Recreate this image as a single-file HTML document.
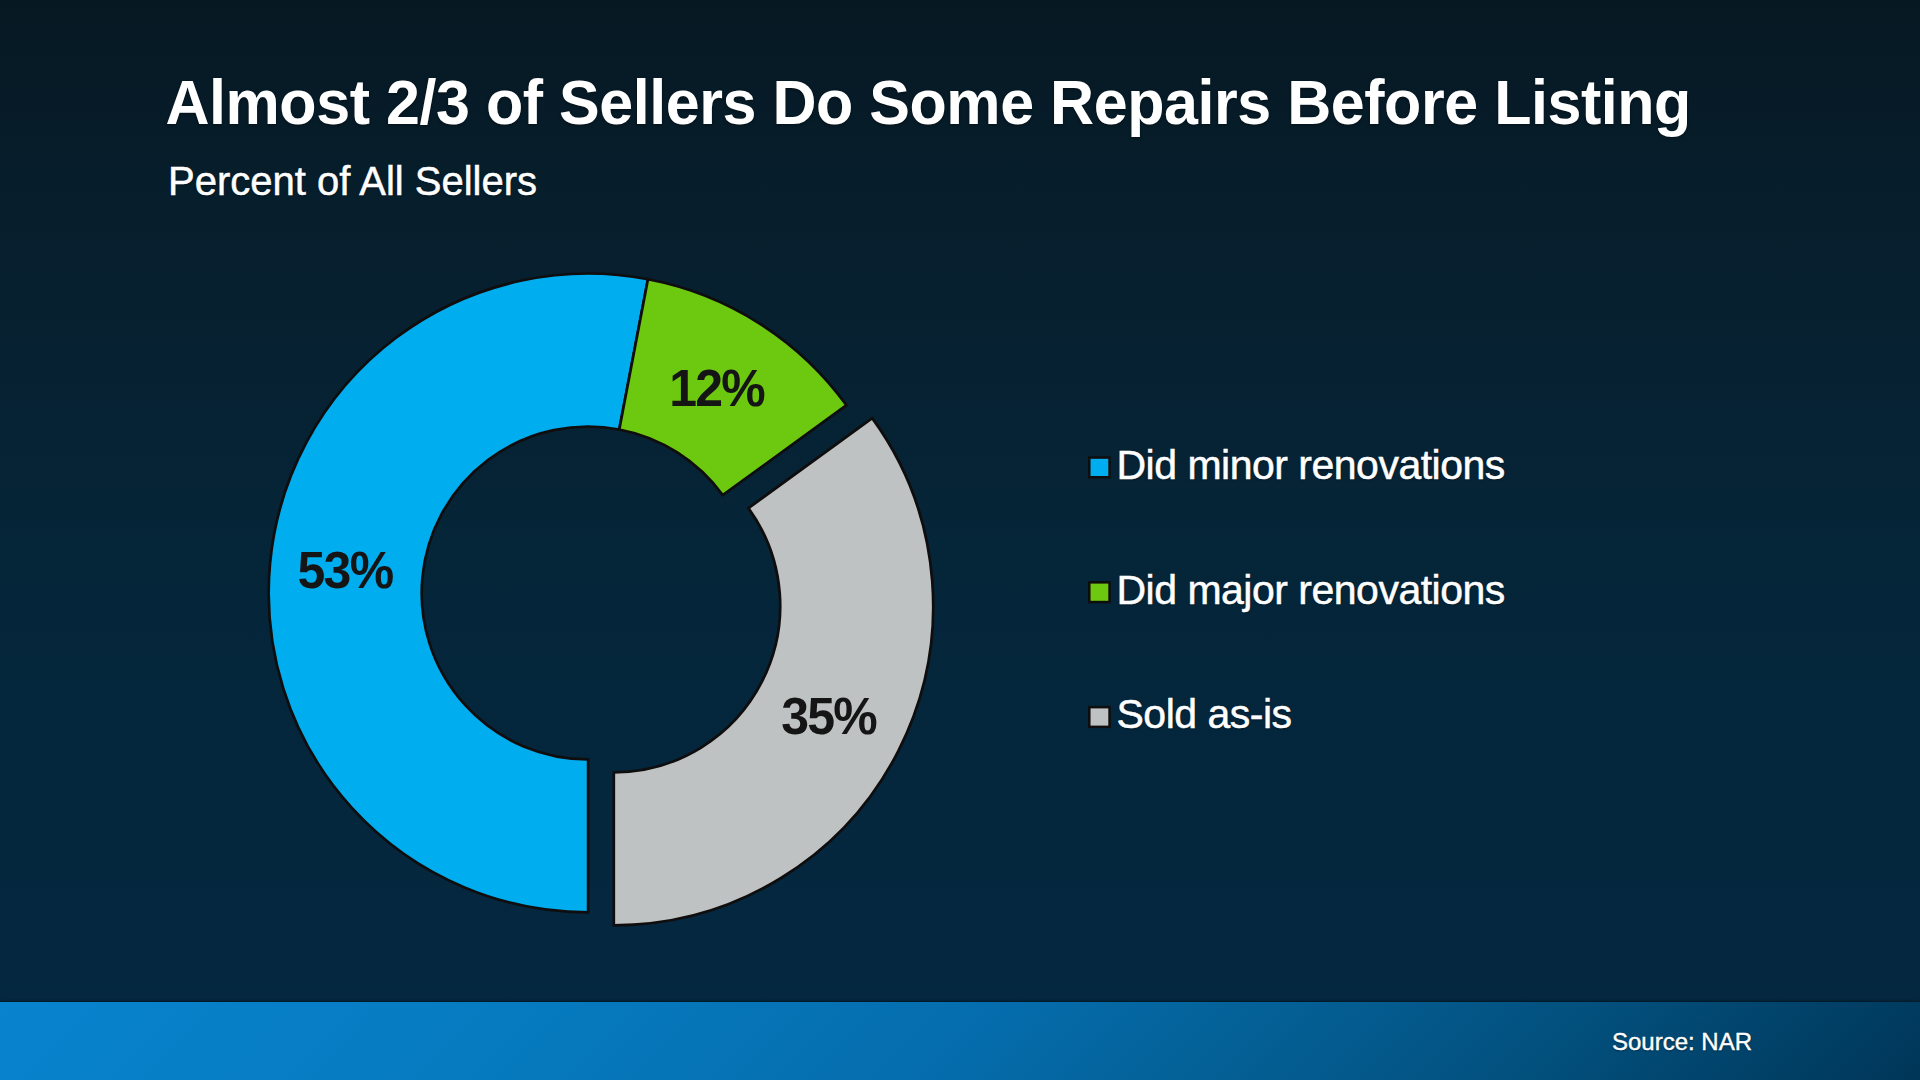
<!DOCTYPE html>
<html lang="en">
<head>
<meta charset="utf-8">
<title>Almost 2/3 of Sellers Do Some Repairs Before Listing</title>
<style>
  html, body { margin:0; padding:0; }
  body {
    width:1920px; height:1080px; overflow:hidden; position:relative;
    font-family:"Liberation Sans", Arial, Helvetica, sans-serif;
    color:#fff;
    background:linear-gradient(to bottom, rgb(6,25,35) 0%, rgb(7,31,46) 23.1%, rgb(5,37,56) 50%, rgb(4,39,62) 74%, rgb(4,40,64) 92.6%, rgb(4,40,64) 100%);
  }
  .title {
    position:absolute; left:165.5px; top:67.6px; margin:0;
    font-size:61px; font-weight:bold; line-height:70px; transform:scaleY(1.02); transform-origin:0 56px; white-space:nowrap;
    letter-spacing:-0.457px; text-shadow:0 1px 3px rgba(0,0,0,0.45);
  }
  .subtitle {
    position:absolute; left:168px; top:158px; margin:0;
    font-size:40px; font-weight:normal; line-height:46px; white-space:nowrap;
    -webkit-text-stroke:0.5px #fff; text-shadow:0 1px 2px rgba(0,0,0,0.4);
  }
  .chart { position:absolute; left:0; top:0; width:1920px; height:1080px; }
  .chart path { stroke:#0f0d0d; stroke-width:2.7; stroke-linejoin:miter; }
  .chart text {
    font-family:"Liberation Sans", Arial, Helvetica, sans-serif;
    font-size:50px; font-weight:bold; fill:#151515; text-anchor:middle; letter-spacing:-1.7px;
  }
  .legend { position:absolute; left:1087.5px; top:0; margin:0; padding:0; list-style:none; }
  .legend li {
    position:absolute; left:0; white-space:nowrap;
    font-size:41px; line-height:46px; padding-left:29px; letter-spacing:-0.5px;
    -webkit-text-stroke:0.5px #fff; text-shadow:0 1px 2px rgba(0,0,0,0.4);
  }
  .chart rect { stroke:#0f0d0d; stroke-width:2.5; }
  .footer {
    position:absolute; left:0; top:1002px; width:1920px; height:78px;
    background:linear-gradient(135deg, rgb(8,131,206) 0%, rgb(6,123,192) 26%, rgb(5,109,173) 50%, rgb(4,98,153) 62%, rgb(3,86,135) 74%, rgb(2,80,125) 80%, rgb(0,54,88) 100%);
    box-shadow:0 -1px 2px rgba(0,0,0,0.45);
  }
  .source {
    position:absolute; right:168px; top:25.6px; margin:0;
    font-size:24px; line-height:28px; white-space:nowrap;
    text-shadow:0 1px 2px rgba(0,0,0,0.5); -webkit-text-stroke:0.4px #fff;
  }
</style>
</head>
<body>
  <h1 class="title">Almost 2/3 of Sellers Do Some Repairs Before Listing</h1>
  <p class="subtitle">Percent of All Sellers</p>

  <svg class="chart" width="1920" height="1080" viewBox="0 0 1920 1080">
    <path fill="#00aeef" d="M588.10 912.35A319.4 319.4 0 1 1 647.95 279.21L619.28 429.50A166.4 166.4 0 1 0 588.10 759.35Z"/>
    <path fill="#6cc910" d="M647.95 279.21A319.4 319.4 0 0 1 846.50 405.21L722.72 495.14A166.4 166.4 0 0 0 619.28 429.50Z"/>
    <path fill="#bfc2c2" d="M872.20 418.16A319.4 319.4 0 0 1 613.80 925.30L613.80 772.30A166.4 166.4 0 0 0 748.42 508.09Z"/>
    <rect fill="#00aeef" x="1089.3" y="457.55" width="20.25" height="19.7"/>
    <rect fill="#6cc910" x="1089.3" y="582.35" width="20.25" height="19.7"/>
    <rect fill="#bfc2c2" x="1089.3" y="707.15" width="20.25" height="19.7"/>
    <text transform="translate(344.9 588.3) scale(1 1.045)">53%</text>
    <text transform="translate(716.6 405.6) scale(1 1.045)">12%</text>
    <text transform="translate(828.6 734.4) scale(1 1.045)">35%</text>
  </svg>

  <ul class="legend">
    <li style="top:442px">Did minor renovations</li>
    <li style="top:567px">Did major renovations</li>
    <li style="top:691px">Sold as-is</li>
  </ul>

  <div class="footer">
    <p class="source">Source: NAR</p>
  </div>
</body>
</html>
